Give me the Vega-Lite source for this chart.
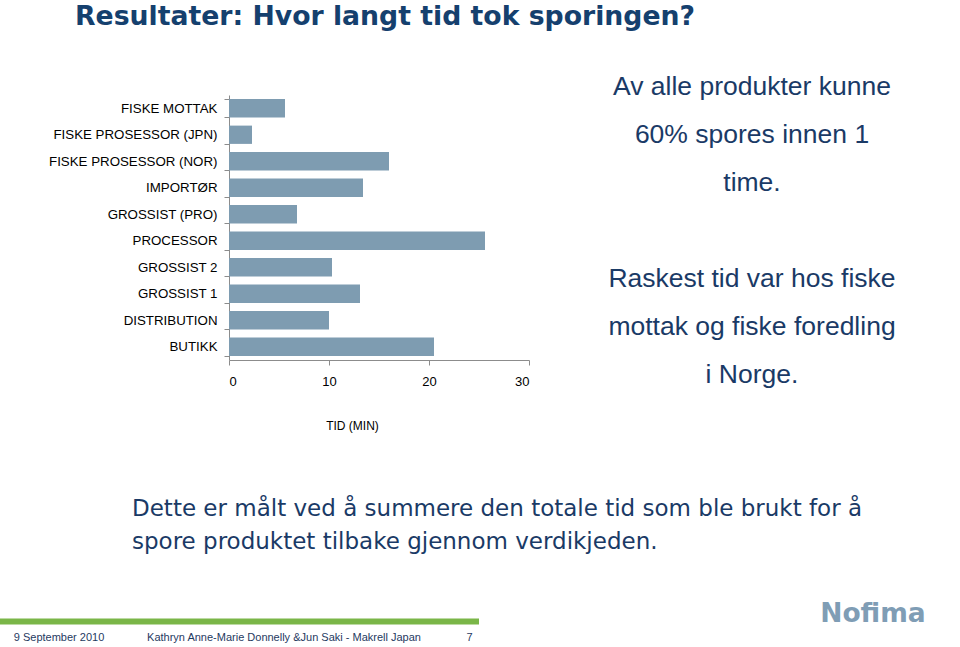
{
  "$schema": "https://vega.github.io/schema/vega-lite/v6.json",
  "background": "white",
  "padding": {"left": 0, "top": 3.5, "right": 0, "bottom": 0},
  "config": {
    "view": {"stroke": null},
    "font": "Liberation Sans"
  },
  "title": {
    "text": "Resultater: Hvor langt tid tok sporingen?",
    "anchor": "start",
    "dx": 75,
    "font": "DejaVu Sans",
    "fontSize": 26.7,
    "fontWeight": "bold",
    "color": "#15406e",
    "offset": 24.5
  },
  "spacing": 18.5,
  "vconcat": [
    {
      "bounds": "flush",
      "center": true,
      "spacing": 58,
      "hconcat": [
        {
          "width": 171,
          "height": 265,
          "data": {"values": []},
          "mark": {"type": "rect", "opacity": 0},
          "encoding": {}
        },
        {
          "width": 300,
          "height": 265,
          "data": {
            "values": [
              {"stage": "FISKE MOTTAK", "minutes": 5.6},
              {"stage": "FISKE PROSESSOR (JPN)", "minutes": 2.3},
              {"stage": "FISKE PROSESSOR (NOR)", "minutes": 16.0},
              {"stage": "IMPORTØR", "minutes": 13.4},
              {"stage": "GROSSIST (PRO)", "minutes": 6.8},
              {"stage": "PROCESSOR", "minutes": 25.6},
              {"stage": "GROSSIST 2", "minutes": 10.3},
              {"stage": "GROSSIST 1", "minutes": 13.1},
              {"stage": "DISTRIBUTION", "minutes": 10.0},
              {"stage": "BUTIKK", "minutes": 20.5}
            ]
          },
          "mark": {"type": "bar", "color": "#7e9cb1"},
          "encoding": {
            "y": {
              "field": "stage",
              "type": "nominal",
              "sort": null,
              "title": null,
              "scale": {"paddingInner": 0.31, "paddingOuter": 0.155},
              "axis": {
                "tickBand": "extent",
                "domainColor": "#8c8c8c",
                "tickColor": "#8c8c8c",
                "tickSize": 5,
                "labelFont": "Liberation Sans",
                "labelFontSize": 13.3,
                "labelColor": "#000000",
                "labelPadding": 7,
                "labelLimit": 300
              }
            },
            "x": {
              "field": "minutes",
              "type": "quantitative",
              "scale": {"domain": [0, 30]},
              "axis": {
                "values": [0, 10, 20, 30],
                "grid": false,
                "title": "TID (MIN)",
                "titleFont": "Liberation Sans",
                "titleFontSize": 12,
                "titleFontWeight": "normal",
                "titleColor": "#000000",
                "titlePadding": 32,
                "titleX": 123,
                "domainColor": "#8c8c8c",
                "tickColor": "#8c8c8c",
                "tickSize": 5,
                "labelFont": "Liberation Sans",
                "labelFontSize": 13,
                "labelColor": "#000000",
                "labelPadding": 10
              }
            }
          }
        },
        {
          "width": 330,
          "height": 344,
          "data": {
            "values": [
              {"line": 1, "text": "Av alle produkter kunne"},
              {"line": 2, "text": "60% spores innen 1"},
              {"line": 3, "text": "time."},
              {"line": 5, "text": "Raskest tid var hos fiske"},
              {"line": 6, "text": "mottak og fiske foredling"},
              {"line": 7, "text": "i Norge."}
            ]
          },
          "mark": {"type": "text", "font": "Liberation Sans", "fontSize": 26.5, "color": "#1a3a66", "baseline": "middle"},
          "encoding": {
            "y": {
              "field": "line",
              "type": "ordinal",
              "axis": null,
              "scale": {"type": "band", "domain": [1, 2, 3, 4, 5, 6, 7], "paddingInner": 0, "paddingOuter": 0.0833, "align": 1}
            },
            "text": {"field": "text"}
          }
        }
      ]
    },
    {
      "width": 264,
      "height": 132,
      "data": {
        "values": [
          {"line": 1, "text": "Dette er målt ved å summere den totale tid som ble brukt for å"},
          {"line": 2, "text": "spore produktet tilbake gjennom verdikjeden."}
        ]
      },
      "mark": {"type": "text", "align": "left", "baseline": "middle", "font": "DejaVu Sans", "fontSize": 23, "color": "#1a3a66"},
      "encoding": {
        "y": {
          "field": "line",
          "type": "ordinal",
          "axis": null,
          "scale": {"type": "band", "paddingInner": 0, "paddingOuter": 1, "align": 0.65}
        },
        "text": {"field": "text"}
      }
    },
    {
      "spacing": 0,
      "vconcat": [
        {
          "bounds": "flush",
          "spacing": 339,
          "hconcat": [
            {
              "width": 479,
              "height": 6,
              "data": {"values": [{"element": "footer line"}]},
              "mark": {"type": "rect", "color": "#7ab648"},
              "encoding": {}
            },
            {
              "width": 110,
              "height": 6,
              "data": {"values": [{"text": "Nofima"}]},
              "mark": {"type": "text", "font": "DejaVu Sans", "fontSize": 26.5, "fontWeight": "bold", "color": "#7f9db5", "baseline": "alphabetic"},
              "encoding": {"text": {"field": "text"}}
            }
          ]
        },
        {
          "bounds": "flush",
          "spacing": 0,
          "hconcat": [
            {
              "width": 118,
              "height": 20,
              "data": {"values": [{"text": "9 September 2010"}]},
              "mark": {"type": "text", "font": "Liberation Sans", "fontSize": 11, "color": "#1f3a5f", "baseline": "middle"},
              "encoding": {"text": {"field": "text"}}
            },
            {
              "width": 332,
              "height": 20,
              "data": {"values": [{"text": "Kathryn Anne-Marie Donnelly  &Jun Saki - Makrell Japan"}]},
              "mark": {"type": "text", "font": "Liberation Sans", "fontSize": 11, "color": "#1f3a5f", "baseline": "middle"},
              "encoding": {"text": {"field": "text"}}
            },
            {
              "width": 39,
              "height": 20,
              "data": {"values": [{"text": "7"}]},
              "mark": {"type": "text", "font": "Liberation Sans", "fontSize": 11, "color": "#1f3a5f", "baseline": "middle"},
              "encoding": {"text": {"field": "text"}}
            }
          ]
        }
      ]
    }
  ]
}
